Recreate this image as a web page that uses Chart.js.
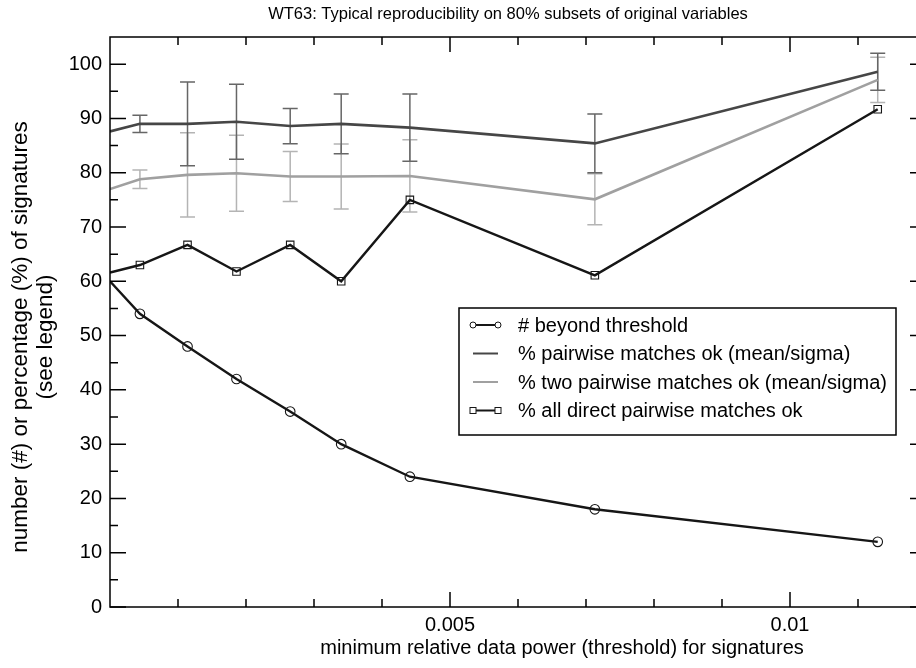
<!DOCTYPE html>
<html>
<head>
<meta charset="utf-8">
<script src="https://cdn.jsdelivr.net/npm/chart.js@4.4.1/dist/chart.umd.min.js"></script>
<style>
  html, body { margin: 0; padding: 0; background: #fff; overflow: hidden; }
  canvas { display: block; }
</style>
</head>
<body>
<canvas id="lineChart" width="940" height="668"></canvas>
<script>
// threshold values (x) shared by all series
const thresholds = [0, 0.00044, 0.00114, 0.00186, 0.00265, 0.0034, 0.00441, 0.00713, 0.01129];

// series values
const beyondCount = [60, 54, 48, 42, 36, 30, 24, 18, 12];
const pairMean = [87.6, 89.0, 89.0, 89.4, 88.6, 89.0, 88.3, 85.4, 98.6];
const pairSigma = [null, 1.6, 7.7, 6.9, 3.25, 5.5, 6.2, 5.4, 3.4];
const twoMean = [77.0, 78.8, 79.6, 79.9, 79.3, 79.3, 79.4, 75.1, 97.1];
const twoSigma = [null, 1.7, 7.75, 7.0, 4.6, 6.0, 6.65, 4.7, 4.15];
const directPct = [61.6, 63.0, 66.7, 61.8, 66.7, 60.0, 75.0, 61.1, 91.7];

const seriesNames = [
  '# beyond threshold',
  '% pairwise matches ok (mean/sigma)',
  '% two pairwise matches ok (mean/sigma)',
  '% all direct pairwise matches ok'
];

// axis ticks
const xTickValues = [0.005, 0.01];
const xTickLabels = ['0.005', '0.01'];
const xMinorTicks = [0.001, 0.002, 0.003, 0.004, 0.006, 0.007, 0.008, 0.009, 0.011];
const yTickValues = [0, 10, 20, 30, 40, 50, 60, 70, 80, 90, 100];
const yMinorTicks = [5, 15, 25, 35, 45, 55, 65, 75, 85, 95];

const FONT = "'Liberation Sans', Arial, Helvetica, sans-serif";

const toPoints = vals => vals.map((v, i) => ({ x: thresholds[i], y: v }));
const hideFirst = r => thresholds.map((t, i) => i === 0 ? 0 : r);

const DARK = '#464646';
const LIGHT = '#a0a0a0';
const BLACK = '#161616';

// error bars for the mean/sigma series, drawn under the lines
const errorBars = {
  id: 'errorBars',
  beforeDatasetsDraw(chart) {
    const { ctx, chartArea: a, scales: { x, y } } = chart;
    ctx.save();
    ctx.beginPath();
    ctx.rect(a.left, a.top, a.right - a.left, a.bottom - a.top);
    ctx.clip();
    const sets = [[twoMean, twoSigma, '#b4b4b4'], [pairMean, pairSigma, '#666666']];
    sets.forEach(([mean, sigma, color]) => {
      ctx.strokeStyle = color;
      ctx.lineWidth = 1.5;
      for (let i = 0; i < thresholds.length; i++) {
        if (sigma[i] == null) continue;
        const px = x.getPixelForValue(thresholds[i]);
        const top = y.getPixelForValue(mean[i] + sigma[i]);
        const bot = y.getPixelForValue(mean[i] - sigma[i]);
        ctx.beginPath();
        ctx.moveTo(px, top); ctx.lineTo(px, bot);
        ctx.moveTo(px - 7.5, top); ctx.lineTo(px + 7.5, top);
        ctx.moveTo(px - 7.5, bot); ctx.lineTo(px + 7.5, bot);
        ctx.stroke();
      }
    });
    ctx.restore();
  }
};

// frame, inward tick marks, titles and legend box
const decorations = {
  id: 'decorations',
  afterDraw(chart) {
    const { ctx, chartArea: a, scales: { x, y } } = chart;
    ctx.save();
    ctx.strokeStyle = '#000';
    ctx.lineWidth = 1.5;
    ctx.strokeRect(a.left, a.top, a.right - a.left, a.bottom - a.top);

    ctx.beginPath();
    xTickValues.forEach(v => {
      const px = x.getPixelForValue(v);
      ctx.moveTo(px, a.bottom); ctx.lineTo(px, a.bottom - 15);
      ctx.moveTo(px, a.top); ctx.lineTo(px, a.top + 15);
    });
    xMinorTicks.forEach(v => {
      const px = x.getPixelForValue(v);
      ctx.moveTo(px, a.bottom); ctx.lineTo(px, a.bottom - 8);
      ctx.moveTo(px, a.top); ctx.lineTo(px, a.top + 8);
    });
    yTickValues.forEach(v => {
      const py = y.getPixelForValue(v);
      ctx.moveTo(a.left, py); ctx.lineTo(a.left + 16, py);
      ctx.moveTo(a.right, py); ctx.lineTo(a.right - 16, py);
    });
    yMinorTicks.forEach(v => {
      const py = y.getPixelForValue(v);
      ctx.moveTo(a.left, py); ctx.lineTo(a.left + 8, py);
      ctx.moveTo(a.right, py); ctx.lineTo(a.right - 8, py);
    });
    ctx.stroke();

    // titles
    ctx.fillStyle = '#000';
    ctx.textAlign = 'center';
    ctx.textBaseline = 'middle';
    ctx.font = '16.5px ' + FONT;
    ctx.fillText('WT63: Typical reproducibility on 80% subsets of original variables', 508, 14);
    ctx.font = '20px ' + FONT;
    ctx.fillText('minimum relative data power (threshold) for signatures', 562, 648);
    ctx.save();
    ctx.translate(21, 337);
    ctx.rotate(-Math.PI / 2);
    ctx.font = '22.5px ' + FONT;
    ctx.fillText('number (#) or percentage (%) of signatures', 0, 0);
    ctx.fillText('(see legend)', 0, 25);
    ctx.restore();

    // legend
    const lx = 459, ly = 308, lw = 437, lh = 127;
    ctx.fillStyle = '#fff';
    ctx.fillRect(lx, ly, lw, lh);
    ctx.lineWidth = 1.5;
    ctx.strokeStyle = '#000';
    ctx.strokeRect(lx, ly, lw, lh);
    ctx.font = '20px ' + FONT;
    ctx.textAlign = 'left';
    chart.data.datasets.forEach((ds, i) => {
      const ry = ly + 17 + i * 28.5;
      ctx.strokeStyle = ds.borderColor;
      ctx.lineWidth = 2;
      ctx.beginPath();
      ctx.moveTo(473, ry); ctx.lineTo(498, ry);
      ctx.stroke();
      ctx.lineWidth = 1;
      if (ds.pointStyle === 'circle') {
        [473, 498].forEach(cx => { ctx.beginPath(); ctx.arc(cx, ry, 3, 0, Math.PI * 2); ctx.fillStyle = '#fff'; ctx.fill(); ctx.stroke(); });
      } else if (ds.pointStyle === 'rect' && ds.showMarks) {
        [473, 498].forEach(cx => { ctx.fillStyle = '#fff'; ctx.fillRect(cx - 3, ry - 3, 6, 6); ctx.strokeRect(cx - 3, ry - 3, 6, 6); });
      }
      ctx.fillStyle = '#000';
      ctx.fillText(ds.label, 518, ry + 1);
    });
    ctx.restore();
  }
};

const ctx = document.getElementById('lineChart').getContext('2d');
const lineChart = new Chart(ctx, {
  type: 'line',
  data: {
    datasets: [
      {
        label: seriesNames[0],
        data: toPoints(beyondCount),
        borderColor: BLACK,
        borderWidth: 2.4,
        pointStyle: 'circle',
        pointRadius: hideFirst(4.8),
        pointBorderWidth: 1.1,
        pointBackgroundColor: 'rgba(0,0,0,0)',
        pointBorderColor: BLACK
      },
      {
        label: seriesNames[1],
        data: toPoints(pairMean),
        borderColor: DARK,
        borderWidth: 2.6,
        pointStyle: 'rect',
        pointRadius: 0
      },
      {
        label: seriesNames[2],
        data: toPoints(twoMean),
        borderColor: LIGHT,
        borderWidth: 2.6,
        pointStyle: 'rect',
        pointRadius: 0
      },
      {
        label: seriesNames[3],
        data: toPoints(directPct),
        borderColor: BLACK,
        borderWidth: 2.4,
        pointStyle: 'rect',
        showMarks: true,
        pointRadius: hideFirst(5.3),
        pointBorderWidth: 1.1,
        pointBackgroundColor: 'rgba(0,0,0,0)',
        pointBorderColor: BLACK
      }
    ]
  },
  options: {
    responsive: false,
    animation: false,
    layout: { padding: { top: 37, right: 14, left: 0, bottom: 0 } },
    plugins: {
      legend: { display: false },
      tooltip: { enabled: false },
      title: { display: false }
    },
    elements: { line: { tension: 0 } },
    scales: {
      x: {
        type: 'linear',
        min: 0,
        max: 0.012,
        grid: { display: false, drawTicks: false },
        border: { display: false },
        afterBuildTicks: scale => { scale.ticks = xTickValues.map(v => ({ value: v })); },
        afterFit: scale => { scale.height = 61; },
        ticks: {
          autoSkip: false,
          maxRotation: 0,
          padding: 6,
          color: '#000',
          font: { family: FONT, size: 20 },
          callback: (value, index) => xTickLabels[index]
        }
      },
      y: {
        min: 0,
        max: 105,
        grid: { display: false, drawTicks: false },
        border: { display: false },
        afterBuildTicks: scale => { scale.ticks = yTickValues.map(v => ({ value: v })); },
        afterFit: scale => { scale.width = 110; },
        ticks: {
          padding: 8,
          color: '#000',
          font: { family: FONT, size: 20 },
          callback: value => value
        }
      }
    }
  },
  plugins: [errorBars, decorations]
});
</script>
</body>
</html>
